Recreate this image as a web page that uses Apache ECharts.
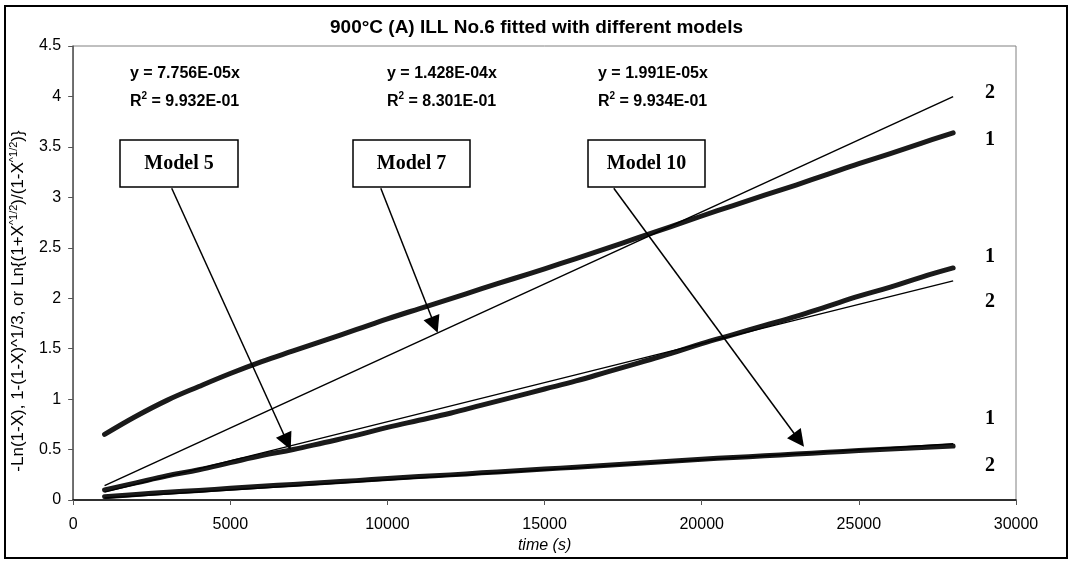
<!DOCTYPE html>
<html>
<head>
<meta charset="utf-8">
<script src="https://cdn.jsdelivr.net/npm/echarts@6/dist/echarts.min.js"></script>
<style>
html,body{margin:0;padding:0;background:#fff;}
#chart{width:1073px;height:561px;}
</style>
</head>
<body>
<div id="chart"></div>
<script>
// ---- data ----
var time = [1000,2000,3000,4000,5000,6000,7000,8000,9000,10000,11000,12000,13000,14000,15000,16000,17000,18000,19000,20000,21000,22000,23000,24000,25000,26000,27000,28000];
// Model 7: Ln{(1+X^1/2)/(1-X^1/2)}
var model7 = [0.65,0.83,0.99,1.125,1.254,1.372,1.478,1.583,1.688,1.795,1.895,1.993,2.094,2.193,2.292,2.393,2.497,2.602,2.708,2.815,2.919,3.021,3.122,3.228,3.334,3.434,3.538,3.64];
// Model 5: -Ln(1-X)
var model5 = [0.10,0.17,0.24,0.30,0.37,0.44,0.50,0.57,0.64,0.72,0.79,0.86,0.94,1.02,1.10,1.18,1.27,1.36,1.45,1.55,1.64,1.73,1.82,1.92,2.02,2.11,2.21,2.30];
// Model 10: 1-(1-X)^1/3
var model10 = [0.033,0.055,0.077,0.095,0.116,0.136,0.154,0.173,0.192,0.213,0.232,0.249,0.269,0.288,0.307,0.325,0.345,0.364,0.383,0.404,0.421,0.438,0.455,0.473,0.490,0.505,0.521,0.535];
// linear fits (endpoints)
var fitTime = [1000, 28000];
var fit7 = [0.143, 3.998];
var fit5 = [0.078, 2.172];
var fit10 = [0.020, 0.557];
// annotation arrows: [from, to] in data coordinates
var arrow5 = [[3136, 3.09], [6811, 0.575]];
var arrow7 = [[9789, 3.09], [11500, 1.735]];
var arrow10 = [[17202, 3.09], [23094, 0.595]];
var titleText = '900°C (A) ILL No.6 fitted with different models';
var xTicks = {min: 0, max: 30000, interval: 5000};
var yTicks = {min: 0, max: 4.5, interval: 0.5};

function pairs(xs, ys){ return xs.map(function(x,i){ return [x, ys[i]]; }); }

var SANS = '"Liberation Sans", Arial, sans-serif';
var SERIF = '"Liberation Serif", "Times New Roman", serif';

function dataLine(name, ys){
  return {
    name: name, type: 'line', data: pairs(time, ys), showSymbol: false, smooth: 0.4,
    lineStyle: {color: '#1a1a1a', width: 5, cap: 'round', join: 'round'},
    z: 3, silent: true
  };
}
function fitLine(name, ys){
  return {
    name: name, type: 'line', data: pairs(fitTime, ys), showSymbol: false,
    lineStyle: {color: '#000', width: 1.5}, z: 4, silent: true
  };
}

var eqRich = {
  b: {fontFamily: SANS, fontWeight: 'bold', fontSize: 16, color: '#000', lineHeight: 20, verticalAlign: 'bottom'},
  s: {fontFamily: SANS, fontWeight: 'bold', fontSize: 10, color: '#000', lineHeight: 20, verticalAlign: 'top', padding: [1,0,0,0]}
};
function eqText(x, y, eq, r2){
  return [
    {type: 'text', left: x, top: y, z: 10, style: {text: eq, font: 'bold 16px ' + SANS, fill: '#000'}},
    {type: 'text', left: x, top: y + 24, z: 10, style: {text: '{b|R}{s|2}{b| = ' + r2 + '}', rich: eqRich}}
  ];
}
function modelBox(x, w, label){
  return [
    {type: 'rect', shape: {x: x, y: 140, width: w, height: 47}, style: {fill: '#fff', stroke: '#000', lineWidth: 1.5}, z: 10},
    {type: 'text', x: x + w/2, y: 164, z: 11, style: {text: label, font: 'bold 20px ' + SERIF, fill: '#000', align: 'center', verticalAlign: 'middle'}}
  ];
}
function numLabel(y, t){
  return {type: 'text', x: 990, y: y, z: 10, style: {text: t, font: 'bold 20px ' + SERIF, fill: '#000', align: 'center', verticalAlign: 'middle'}};
}

var graphics = [
  {type: 'rect', shape: {x: 5, y: 6, width: 1062, height: 552}, style: {fill: 'none', stroke: '#000', lineWidth: 2}, z: 0, silent: true}
];
graphics = graphics
  .concat(eqText(130, 66, 'y = 7.756E-05x', '9.932E-01'))
  .concat(eqText(387, 66, 'y = 1.428E-04x', '8.301E-01'))
  .concat(eqText(598, 66, 'y = 1.991E-05x', '9.934E-01'))
  .concat(modelBox(120, 118, 'Model 5'))
  .concat(modelBox(353, 117, 'Model 7'))
  .concat(modelBox(588, 117, 'Model 10'))
  .concat([numLabel(93, '2'), numLabel(140, '1'), numLabel(257, '1'), numLabel(302, '2'), numLabel(419, '1'), numLabel(466, '2')]);

var chart = echarts.init(document.getElementById('chart'), null, {renderer: 'canvas'});
chart.setOption({
  animation: false,
  backgroundColor: '#fff',
  title: {
    text: titleText, left: 'center', top: 13,
    textStyle: {fontFamily: SANS, fontWeight: 'bold', fontSize: 19, color: '#000'}
  },
  grid: {left: 69, right: 57, top: 46, bottom: 61, show: true, borderColor: '#808080', borderWidth: 1, backgroundColor: '#fff'},
  xAxis: {
    type: 'value', min: xTicks.min, max: xTicks.max, interval: xTicks.interval,
    name: 'time (s)', nameLocation: 'middle', nameGap: 34,
    nameTextStyle: {fontFamily: SANS, fontStyle: 'italic', fontSize: 16, color: '#000'},
    axisLine: {show: true, onZero: false, lineStyle: {color: '#000', width: 1.5}},
    axisTick: {show: true, length: 5, lineStyle: {color: '#555'}},
    axisLabel: {fontFamily: SANS, fontSize: 16, color: '#000', margin: 17, formatter: function(v){ return String(v); }},
    splitLine: {show: false}
  },
  yAxis: {
    type: 'value', min: yTicks.min, max: yTicks.max, interval: yTicks.interval,
    name: '-Ln(1-X), 1-(1-X)^1/3, or Ln{(1+X{s|^1/2})/(1-X{s|^1/2})}',
    nameLocation: 'middle', nameGap: 30,
    nameTextStyle: {
      fontFamily: SANS, fontSize: 17, color: '#000', lineHeight: 20, padding: [0, 56, 0, 0],
      rich: {s: {fontFamily: SANS, fontSize: 11, color: '#000', verticalAlign: 'top', lineHeight: 20}}
    },
    axisLine: {show: true, lineStyle: {color: '#555', width: 1.5}},
    axisTick: {show: true, length: 5, lineStyle: {color: '#555'}},
    axisLabel: {fontFamily: SANS, fontSize: 16, color: '#000', margin: 12, formatter: function(v){ return String(v); }},
    splitLine: {show: false}
  },
  series: [
    dataLine('Model 7 data', model7),
    dataLine('Model 5 data', model5),
    dataLine('Model 10 data', model10),
    fitLine('Model 7 fit', fit7),
    fitLine('Model 5 fit', fit5),
    fitLine('Model 10 fit', fit10),
    {
      name: 'arrows', type: 'line', data: [], silent: true,
      markLine: {
        silent: true, animation: false,
        symbol: ['none', 'triangle'], symbolSize: 17,
        label: {show: false},
        lineStyle: {color: '#000', width: 1.5, type: 'solid'},
        itemStyle: {color: '#000'},
        data: [arrow5, arrow7, arrow10].map(function(a){
          return [{coord: a[0]}, {coord: a[1]}];
        })
      }
    }
  ],
  graphic: graphics
});
</script>
</body>
</html>
